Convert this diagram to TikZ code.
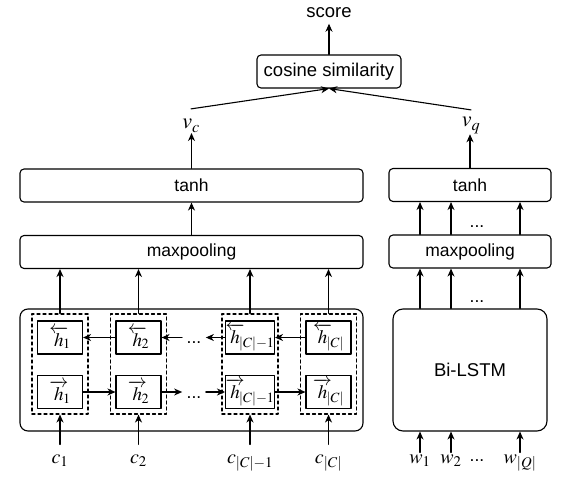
\documentclass[tikz,border=0pt]{standalone}
\usepackage{amsmath}
\usepackage{mathptmx}
\usepackage[no-math]{fontspec}
\setmainfont{Liberation Sans}
\usepackage{tikz}
\usetikzlibrary{arrows.meta}
\newcommand{\txtfont}{\fontsize{17.5}{21}\selectfont}
\newcommand{\bigtxt}{\fontsize{18.5}{22}\selectfont}
\newcommand{\vlabfont}{\fontsize{22}{26}\selectfont}
\newcommand{\inlabfont}{\fontsize{20}{24}\selectfont}
\newcommand{\cellfont}{\fontsize{19}{22}\selectfont}
\newcommand{\hb}[1]{{\overleftarrow{h}\mkern-5mu}_{#1}}
\newcommand{\hf}[1]{{\overrightarrow{h}\mkern-5mu}_{#1}}
\tikzstyle{every node}=[font=\txtfont]
\tikzstyle{blk}=[draw, rounded corners=4pt, minimum height=33pt, inner sep=0pt]
\tikzstyle{cell}=[draw, minimum width=45pt, minimum height=33pt, inner sep=0pt, font=\cellfont]
\tikzstyle{grp}=[draw, dashed, minimum width=56pt, minimum height=100pt, inner sep=0pt]
\tikzstyle{lbl}=[inner sep=0pt, font=\inlabfont, anchor=base]
\tikzstyle{gap}=[inner sep=4pt, text height=12pt, text depth=0pt]

\begin{document}
\begin{tikzpicture}[line cap=round,line join=round,>={Stealth[length=8pt,width=7pt,inset=2.5pt]},x=1pt,y=-1pt,line width=1.1pt]
            \useasboundingbox (0,0) rectangle (572,486);
            % top: similarity and score
            \node[font=\bigtxt, inner sep=5pt, anchor=base] (score) at (329,18) {score};
            \node[blk, font=\bigtxt, minimum width=144pt] (cos) at (329,71.5) {cosine similarity};
            \node[lbl, font=\vlabfont] (vc) at (191,129) {$v_c$};
            \node[lbl, font=\vlabfont] (vq) at (471,127) {$v_q$};
            \draw [->] (cos) -- (score);
            \draw [->] ([yshift=10pt]vc.north) -- (cos.south);
            \draw [->] ([yshift=7pt]vq.north) -- (cos.south);
            % context side
            \node[blk, minimum width=343pt] (tanhC) at (191.5,185.5) {tanh};
            \node[blk, minimum width=343pt] (poolC) at (191.5,252) {maxpooling};
            \node[blk, rounded corners=8pt, minimum width=343pt, minimum height=122pt] (lstmC) at (191.5,370) {};
            \draw [->] (poolC) -- (tanhC);
            \draw [->] (tanhC.north) -- (tanhC.north |- vc.south);
            \foreach \i/\x/\lab in {1/60/1, 2/138.5/2, 3/250/{|C|-1}, 4/328.5/{|C|}} {
                \node[grp] (g\i) at (\x,364) {};
                \node[cell] (b\i) at (\x,337.5) {$\hb{\lab}$};
                \node[cell] (f\i) at (\x,392) {$\hf{\lab}$};
                \node[lbl, text height=18pt, text depth=6pt] (c\i) at (\x,463) {$c_{\lab}$};
                \draw [->] (c\i.north) -- (g\i.south);
                \draw [->] (g\i.north) -- (g\i.north |- poolC.south);
            }
            \node[gap] (db) at (194,337.5) {...};
            \node[gap] (df) at (194,392) {...};
            \draw [->] (b2) -- (b1);
            \draw [->] (db) -- (b2);
            \draw [->] (b3) -- (db);
            \draw [->] (b4) -- (b3);
            \draw [->] (f1) -- (f2);
            \draw [->] (f2) -- (df);
            \draw [->] (df) -- (f3);
            \draw [->] (f3) -- (f4);
            % question side
            \node[blk, minimum width=162pt] (tanhQ) at (470,185) {tanh};
            \node[blk, minimum width=162pt] (poolQ) at (470,251.5) {maxpooling};
            \node[blk, rounded corners=10pt, font=\bigtxt, minimum width=154pt, minimum height=122pt] (lstmQ) at (470,370) {Bi-LSTM};
            \draw [->] (tanhQ.north) -- (tanhQ.north |- vq.south);
            \node[lbl, text height=10pt, text depth=6pt] (w1) at (420,463) {$w_1$};
            \node[lbl, text height=10pt, text depth=6pt] (w2) at (451,463) {$w_2$};
            \node[lbl, text height=10pt, text depth=6pt] (wQ) at (520,463) {$w_{|Q|}$};
            \node[gap, anchor=base] (dw) at (477,461) {...};
            \node[gap, anchor=base] (dl) at (477,302) {...};
            \node[gap, anchor=base] (dp) at (477,227) {...};
            \foreach \w in {w1,w2,wQ} {
                \draw [->] (\w.north) -- (\w |- lstmQ.south);
                \draw [->] (\w |- lstmQ.north) -- (\w |- poolQ.south);
                \draw [->] (\w |- poolQ.north) -- (\w |- tanhQ.south);
            }
\end{tikzpicture}
\end{document}
